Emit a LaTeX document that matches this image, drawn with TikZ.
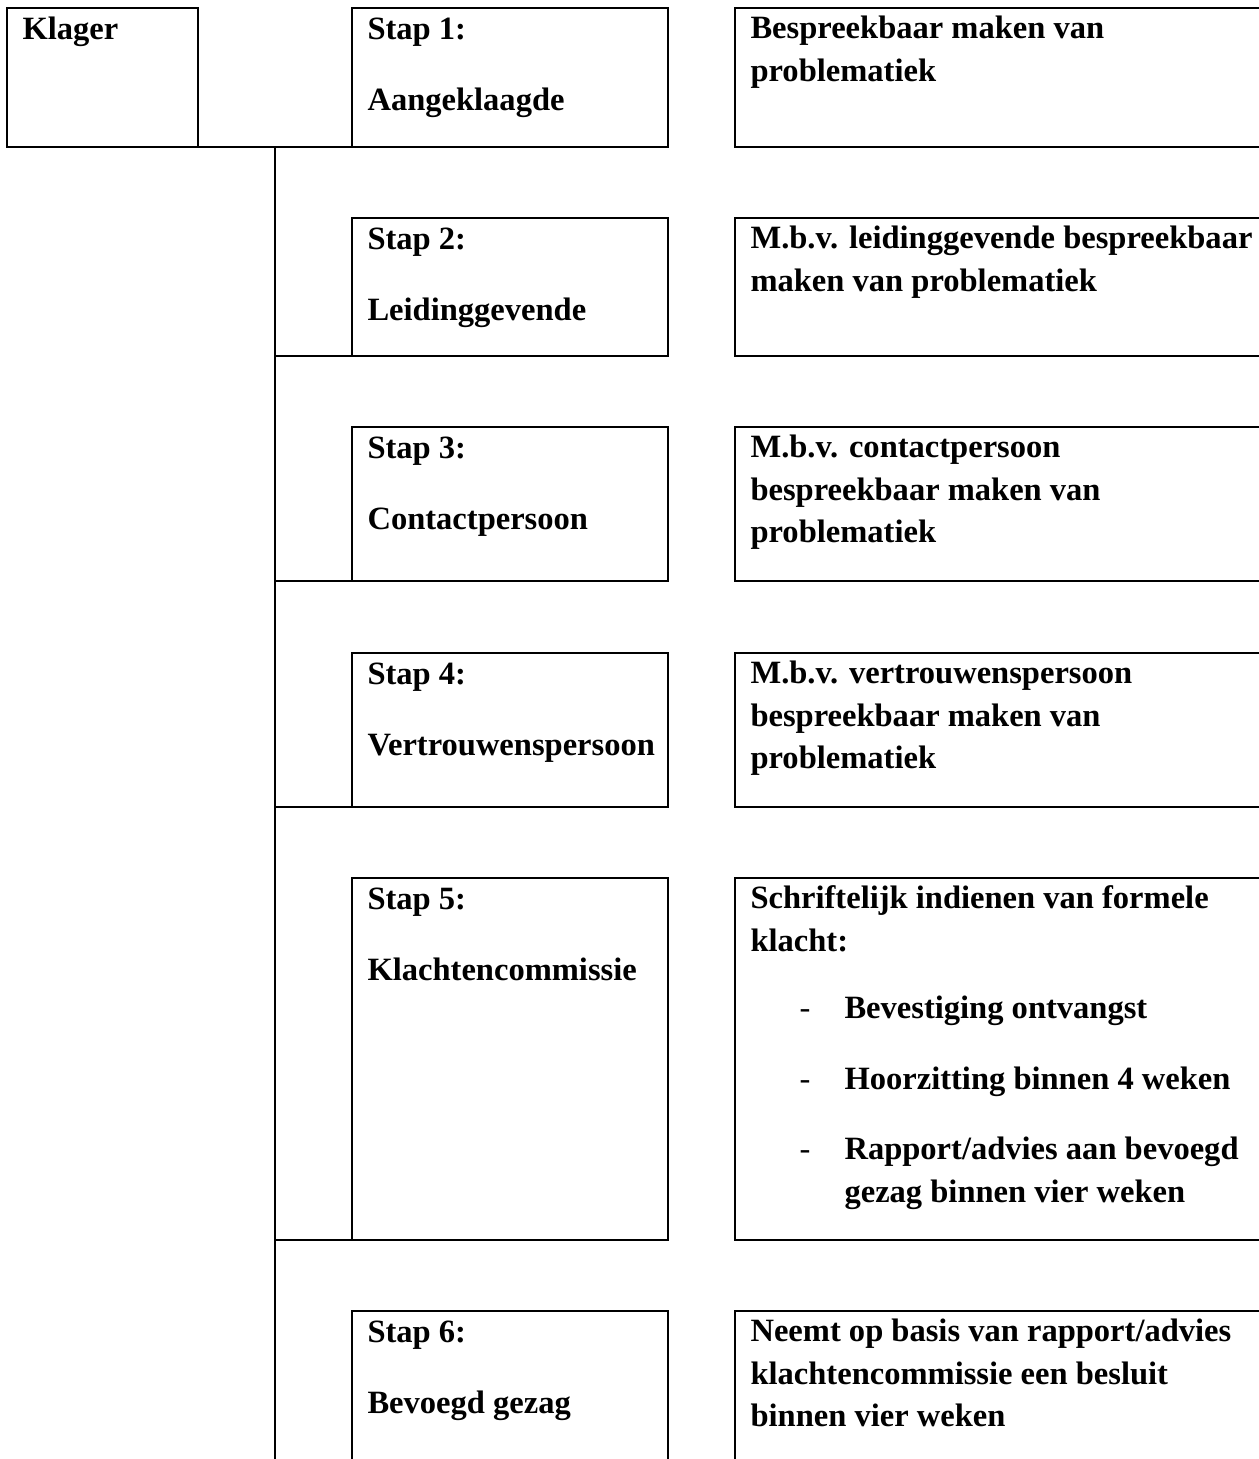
\documentclass[tikz,border=0pt]{standalone}
\usepackage{fontspec}
\setmainfont{Liberation Serif}
\usetikzlibrary{calc}
\usetikzlibrary{positioning}

\newdimen\px
\px=0.375pt

\begin{document}
\begin{tikzpicture}[x=0.375pt, y=-0.375pt]
    \tikzstyle{stepbox}=[draw, line width=0.85pt, rectangle, inner sep=0pt, outer sep=0pt, anchor=north west]
    \tikzstyle{boxtext}=[inner sep=0pt, anchor=north west, align=left, font=\bfseries\fontsize{12.2}{16}\selectfont]
    \tikzstyle{wire}=[line width=0.85pt]

    \useasboundingbox (0,0) rectangle (1258,1459);

    % Klager and Stap 1
    \node[stepbox, minimum width=191\px, minimum height=139\px] (klager) at (7,8) {};
    \node[stepbox, minimum width=316\px, minimum height=139\px] (s1) at (352,8) {};
    \node[stepbox, minimum width=530\px, minimum height=139\px] (r1) at (735,8) {};
    \node[boxtext] (klagertxt) at ($(klager.north west) + (15,1)$) {\strut Klager};
    \node[boxtext] (s1txt) at ($(s1.north west) + (15,1)$) {\strut Stap 1:\\[10.5pt]Aangeklaagde};
    \node[boxtext] (r1txt) at ($(r1.north west) + (15,0)$) {\strut Bespreekbaar maken van\\problematiek};
    \draw[wire] (klager.south east) -- (s1.south west);

    % Steps 2 to 6
    \node[stepbox, minimum width=316\px, minimum height=138\px] (s2) at (352,218) {};
    \node[stepbox, minimum width=530\px, minimum height=138\px] (r2) at (735,218) {};
    \node[boxtext] (s2txt) at ($(s2.north west) + (15,1)$) {\strut Stap 2:\\[10.5pt]Leidinggevende};
    \node[boxtext] (r2txt) at ($(r2.north west) + (15,0)$) {\strut M.b.v. leidinggevende bespreekbaar\\maken van problematiek};

    \node[stepbox, minimum width=316\px, minimum height=154\px] (s3) at (352,427) {};
    \node[stepbox, minimum width=530\px, minimum height=154\px] (r3) at (735,427) {};
    \node[boxtext] (s3txt) at ($(s3.north west) + (15,1)$) {\strut Stap 3:\\[10.5pt]Contactpersoon};
    \node[boxtext] (r3txt) at ($(r3.north west) + (15,0)$) {\strut M.b.v. contactpersoon\\bespreekbaar maken van\\problematiek};

    \node[stepbox, minimum width=316\px, minimum height=154\px] (s4) at (352,653) {};
    \node[stepbox, minimum width=530\px, minimum height=154\px] (r4) at (735,653) {};
    \node[boxtext] (s4txt) at ($(s4.north west) + (15,1)$) {\strut Stap 4:\\[10.5pt]Vertrouwenspersoon};
    \node[boxtext] (r4txt) at ($(r4.north west) + (15,0)$) {\strut M.b.v. vertrouwenspersoon\\bespreekbaar maken van\\problematiek};

    \node[stepbox, minimum width=316\px, minimum height=362\px] (s5) at (352,878) {};
    \node[stepbox, minimum width=530\px, minimum height=362\px] (r5) at (735,878) {};
    \node[boxtext] (s5txt) at ($(s5.north west) + (15,1)$) {\strut Stap 5:\\[10.5pt]Klachtencommissie};
    \node[boxtext] (r5txt) at ($(r5.north west) + (15,0)$) {\strut Schriftelijk indienen van formele\\klacht:};
    \node[boxtext] (r5list) at ($(r5.north west) + (64,110)$)
      {\strut\makebox[45\px][l]{\mdseries -}Bevestiging ontvangst\\[10.5pt]
       \makebox[45\px][l]{\mdseries -}Hoorzitting binnen 4 weken\\[10.5pt]
       \makebox[45\px][l]{\mdseries -}Rapport/advies aan bevoegd\\
       \hspace*{45\px}gezag binnen vier weken};

    \node[stepbox, minimum width=316\px, minimum height=170\px] (s6) at (352,1311) {};
    \node[stepbox, minimum width=530\px, minimum height=170\px] (r6) at (735,1311) {};
    \node[boxtext] (s6txt) at ($(s6.north west) + (15,1)$) {\strut Stap 6:\\[10.5pt]Bevoegd gezag};
    \node[boxtext] (r6txt) at ($(r6.north west) + (15,0)$) {\strut Neemt op basis van rapport/advies\\klachtencommissie een besluit\\binnen vier weken};

    % Spine and branches
    \coordinate (spinetop) at ($(klager.south east)!0.5!(s1.south west)$);
    \coordinate (spinebot) at (spinetop |- 0,1459);
    \draw[wire] (spinetop) -- (spinebot);
    \foreach \i in {2,...,5}
      \draw[wire] (spinetop |- s\i.south west) -- (s\i.south west);
\end{tikzpicture}
\end{document}
